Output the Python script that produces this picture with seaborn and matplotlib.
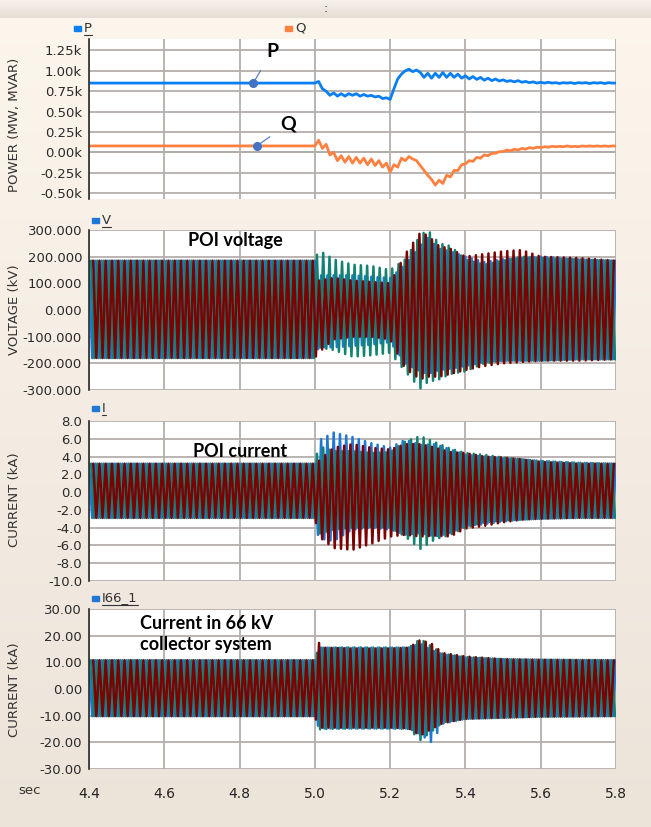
"""Grid disturbance at POI: P/Q, POI voltage, POI current and 66 kV collector current"""

import numpy as np
import pandas as pd
import seaborn as sns
import matplotlib.pyplot as plt
from matplotlib.patches import Rectangle
from matplotlib.lines import Line2D

# ---- data ----
freq = 60.0          # system frequency, Hz
t_start, t_end = 4.40, 5.80

# P and Q in k-units (MW / MVAR), one sample every 10 ms after the fault at 5.0 s
pq_time = [4.40] + list(np.round(np.linspace(5.00, 5.80, 81), 2))
p_vals = [0.85,
          0.85, 0.87, 0.78, 0.75, 0.70, 0.73, 0.69, 0.72, 0.69, 0.72, 0.70, 0.72, 0.69, 0.71, 0.69, 0.70, 0.68, 0.69, 0.66, 0.67, 0.65,
          0.78, 0.90, 0.96, 1.00, 1.02, 0.99, 1.01, 0.98, 0.92, 0.97,
          0.91, 0.97, 0.92, 0.98, 0.92, 0.97, 0.92, 0.96, 0.91, 0.94,
          0.90, 0.93, 0.895, 0.92, 0.885, 0.91, 0.88, 0.90, 0.875, 0.89,
          0.87, 0.88, 0.865, 0.88, 0.86, 0.87, 0.855, 0.865, 0.85, 0.86,
          0.85, 0.86, 0.85, 0.855, 0.845, 0.855, 0.85, 0.855, 0.845, 0.855,
          0.85, 0.855, 0.845, 0.855, 0.85, 0.855, 0.845, 0.855, 0.85, 0.85]
q_vals = [0.08,
          0.08, 0.15, 0.05, 0.10, -0.03, 0.00, -0.10, -0.04, -0.12, -0.05, -0.13, -0.06, -0.13, -0.07, -0.15, -0.08, -0.16, -0.10, -0.18, -0.13, -0.24,
          -0.15, -0.18, -0.07, -0.10, -0.05, -0.08, -0.10, -0.16, -0.22, -0.28,
          -0.33, -0.40, -0.34, -0.38, -0.28, -0.30, -0.22, -0.22, -0.15, -0.14,
          -0.10, -0.11, -0.06, -0.07, -0.03, -0.04, -0.01, -0.01, 0.01, 0.01,
          0.03, 0.02, 0.04, 0.03, 0.05, 0.04, 0.06, 0.05, 0.065, 0.06,
          0.07, 0.065, 0.075, 0.07, 0.075, 0.07, 0.08, 0.07, 0.075, 0.07,
          0.08, 0.075, 0.08, 0.075, 0.08, 0.075, 0.08, 0.075, 0.08, 0.08]

phases = ['a', 'b', 'c']

# POI voltage (kV): peak envelopes per phase
v_knots = [4.40, 5.00, 5.01, 5.05, 5.10, 5.15, 5.20, 5.24, 5.28, 5.30, 5.33, 5.36, 5.40, 5.45, 5.50, 5.55, 5.60, 5.70, 5.80]
v_upper = {'a': [185, 185, 130, 130, 130, 125, 120, 170, 240, 270, 230, 220, 200, 180, 190, 195, 200, 190, 185],
           'b': [185, 185, 225, 190, 170, 165, 150, 190, 280, 300, 250, 240, 190, 170, 185, 200, 195, 190, 185],
           'c': [185, 185, 110, 120, 110, 105, 100, 210, 290, 280, 240, 230, 200, 210, 220, 225, 200, 195, 185]}
v_lower = {'a': [-180, -180, -140, -140, -135, -130, -120, -200, -230, -240, -225, -220, -210, -195, -190, -190, -190, -185, -185],
           'b': [-180, -180, -140, -150, -175, -170, -160, -230, -295, -270, -260, -240, -230, -200, -190, -190, -190, -185, -185],
           'c': [-180, -180, -160, -110, -100, -100, -110, -220, -260, -250, -250, -240, -225, -210, -200, -195, -190, -190, -185]}

# POI current (kA)
i_knots = [4.40, 5.00, 5.01, 5.05, 5.10, 5.15, 5.20, 5.24, 5.28, 5.32, 5.36, 5.40, 5.45, 5.50, 5.55, 5.60, 5.70, 5.80]
i_upper = {'a': [3.2, 3.2, 5.8, 6.7, 6.2, 5.5, 5.0, 5.9, 5.3, 5.4, 4.8, 4.2, 4.0, 3.8, 3.7, 3.5, 3.3, 3.2],
           'b': [3.2, 3.2, 5.2, 4.6, 4.6, 4.4, 4.5, 5.7, 6.3, 5.6, 4.9, 4.4, 4.2, 3.9, 3.7, 3.5, 3.3, 3.2],
           'c': [3.2, 3.2, 3.5, 5.0, 5.4, 5.0, 4.8, 5.4, 5.4, 5.0, 4.5, 4.4, 4.0, 3.9, 3.7, 3.4, 3.2, 3.2]}
i_lower = {'a': [-2.9, -2.9, -5.2, -5.5, -4.2, -4.0, -4.2, -4.8, -4.6, -5.0, -4.6, -3.8, -3.6, -3.3, -3.1, -3.0, -2.9, -2.9],
           'b': [-2.9, -2.9, -4.7, -4.2, -4.0, -3.9, -4.0, -5.0, -6.4, -5.3, -4.8, -4.0, -3.4, -3.2, -3.1, -3.0, -2.9, -2.9],
           'c': [-2.9, -2.9, -5.0, -6.3, -6.5, -5.8, -5.0, -4.8, -5.0, -4.9, -5.0, -4.1, -3.8, -3.4, -3.1, -3.0, -2.9, -2.9]}

# 66 kV collector current (kA)
c_knots = [4.40, 5.00, 5.01, 5.02, 5.10, 5.20, 5.25, 5.28, 5.31, 5.34, 5.40, 5.50, 5.60, 5.80]
c_upper = {'a': [10.8, 10.8, 15.5, 15.5, 15.5, 15.5, 15.6, 17.0, 14.5, 13.0, 11.8, 11.2, 11.0, 10.8],
           'b': [10.8, 10.8, 15.8, 15.5, 15.6, 15.5, 15.5, 18.8, 16.0, 13.2, 12.0, 11.2, 11.0, 10.8],
           'c': [10.8, 10.8, 17.5, 15.5, 15.2, 15.2, 15.5, 18.4, 17.0, 13.5, 12.2, 11.2, 11.0, 10.8]}
c_lower = {'a': [-10.2, -10.2, -14.5, -14.8, -14.8, -14.8, -14.8, -17.0, -20.0, -13.0, -11.2, -10.8, -10.4, -10.2],
           'b': [-10.2, -10.2, -15.2, -15.0, -14.8, -14.8, -15.0, -19.2, -16.0, -12.5, -11.2, -10.8, -10.4, -10.2],
           'c': [-10.2, -10.2, -14.8, -14.5, -14.5, -14.5, -14.8, -17.5, -15.0, -12.8, -11.2, -10.8, -10.4, -10.2]}

xticks = [4.4, 4.6, 4.8, 5.0, 5.2, 5.4, 5.6, 5.8]
pq_ticks = [-0.50, -0.25, 0.0, 0.25, 0.50, 0.75, 1.00, 1.25]
v_ticks = [-300, -200, -100, 0, 100, 200, 300]
i_ticks = [-10, -8, -6, -4, -2, 0, 2, 4, 6, 8]
c_ticks = [-30, -20, -10, 0, 10, 20, 30]

phase_colors = {'a': '#1f78d6', 'b': '#138371', 'c': '#7c0000'}
W, H = 651, 827


def fx(px):
    return px / W


def fy(py):
    return 1 - py / H


def three_phase(knots, upper, lower):
    """Peak-to-peak trace per phase, following the read envelopes"""
    half = 0.5 / freq
    rows = []
    for k, ph in enumerate(phases):
        tp = np.arange(t_start + k / (3 * freq), t_end + 1e-9, half)
        up = np.interp(tp, knots, upper[ph])
        lo = np.interp(tp, knots, lower[ph])
        val = np.where(np.arange(len(tp)) % 2 == 0, up, lo)
        rows.append(pd.DataFrame({'time': tp, 'value': val, 'phase': ph}))
    return pd.concat(rows, ignore_index=True)


def style_axes(ax, ylim, yticks, labels, ylabel, ylab_py):
    ax.set_xlim(t_start, t_end)
    ax.set_ylim(*ylim)
    ax.set_xticks(xticks)
    ax.set_yticks(yticks)
    ax.set_yticklabels(labels)
    ax.set_facecolor('white')
    ax.grid(True, color='#b4afab', lw=1.3)
    ax.set_axisbelow(True)
    for s in ['top', 'right', 'bottom']:
        ax.spines[s].set_visible(False)
    ax.spines['left'].set_color('#2a2a2a')
    ax.spines['left'].set_linewidth(1.2)
    ax.tick_params(axis='y', direction='out', length=4, width=1, colors='#2a2a2a',
                   labelsize=9.5, pad=1)
    ax.tick_params(axis='x', length=0, labelbottom=False)
    ax.set_xlabel('')
    ax.set_ylabel('')
    fig.text(fx(15), fy(ylab_py), ylabel, rotation=90, ha='center', va='center',
             fontsize=9.5, color='#333333')


def legend_tag(px, py, label, color, underline=True):
    fig.patches.append(Rectangle((fx(px), fy(py + 3)), 7 / W, 5 / H, color=color,
                                 transform=fig.transFigure, figure=fig))
    t = fig.text(fx(px + 10), fy(py), label, ha='left', va='center', fontsize=9.5, color='#333333')
    if underline:
        fig.canvas.draw()
        bb = t.get_window_extent()
        fig.lines.append(Line2D([bb.x0 / fig.dpi / fig.get_figwidth(), bb.x1 / fig.dpi / fig.get_figwidth()],
                                [fy(py + 7)] * 2, color='#333333', lw=0.8,
                                transform=fig.transFigure, figure=fig))


sns.set_style('white')
plt.rcParams['font.family'] = ['DejaVu Sans']

fig = plt.figure(figsize=(W / 100, H / 100), dpi=100)

# background: cream gradient and the grey title strip
top = np.array([253, 246, 237]) / 255
bot = np.array([236, 227, 217]) / 255
frac = np.linspace(0, 1, H)[:, None]
bg = top + (bot - top) * frac
bar_top = np.array([246, 241, 235]) / 255
bar_bot = np.array([231, 221, 210]) / 255
bg[:18] = bar_top + (bar_bot - bar_top) * np.linspace(0, 1, 18)[:, None]
bg[18] = np.array([250, 247, 243]) / 255
ax_bg = fig.add_axes([0, 0, 1, 1], zorder=-10)
ax_bg.imshow(np.repeat(bg[:, None, :], 4, axis=1), aspect='auto', extent=[0, 1, 0, 1])
ax_bg.axis('off')
fig.text(0.5, fy(9), ':', ha='center', va='center', fontsize=9, color='#333333')

left, width, height = fx(89), 527 / W, 160 / H
ax1 = fig.add_axes([left, fy(199), width, height])
ax2 = fig.add_axes([left, fy(390), width, height])
ax3 = fig.add_axes([left, fy(581), width, height])
ax4 = fig.add_axes([left, fy(769), width, height])

# ---- power ----
pq = pd.DataFrame({'time': pq_time * 2, 'value': p_vals + q_vals,
                   'series': ['P'] * len(pq_time) + ['Q'] * len(pq_time)})
sns.lineplot(data=pq, x='time', y='value', hue='series', palette={'P': '#0b7ff2', 'Q': '#ff8142'},
             estimator=None, sort=False, legend=False, lw=2.0, ax=ax1)
style_axes(ax1, (-0.57, 1.39), pq_ticks, [f"{v:.2f}k" for v in pq_ticks],
           'POWER (MW, MVAR)', 125)
ax1.axhline(0, color='#9a9692', lw=1.3, zorder=0.5)
bold = dict(family=['Lato', 'DejaVu Sans'], fontweight='bold', color='black')
for dot, txt, lab in [((4.836, 0.85), (4.886, 1.235), 'P'), ((4.846, 0.08), (4.928, 0.35), 'Q')]:
    ax1.plot(*dot, 'o', color='#4472c4', ms=5.5, zorder=5)
    ax1.annotate(lab, xy=dot, xytext=txt, ha='center', va='center', fontsize=14,
                 arrowprops=dict(arrowstyle='-', color='#4472c4', lw=0.8, shrinkA=6, shrinkB=2),
                 **bold)

# ---- three-phase waveforms ----
panels = [(ax2, v_knots, v_upper, v_lower, (-300, 300), v_ticks, [f"{v:.3f}" for v in v_ticks], 'VOLTAGE (kV)', 310),
          (ax3, i_knots, i_upper, i_lower, (-10, 8), i_ticks, [f"{v:.1f}" for v in i_ticks], 'CURRENT (kA)', 500),
          (ax4, c_knots, c_upper, c_lower, (-30, 30), c_ticks, [f"{v:.2f}" for v in c_ticks], 'CURRENT (kA)', 690)]
for ax, knots, upper, lower, ylim, ticks, labels, ylabel, ypos in panels:
    df = three_phase(knots, upper, lower)
    sns.lineplot(data=df, x='time', y='value', hue='phase', hue_order=phases, palette=phase_colors,
                 estimator=None, sort=False, legend=False, lw=1.8, ax=ax)
    style_axes(ax, ylim, ticks, labels, ylabel, ypos)

ax2.text(4.788, 262, 'POI voltage', ha='center', va='center', fontsize=13, **bold)
ax3.text(4.801, 4.6, 'POI current', ha='center', va='center', fontsize=13, **bold)
ax4.text(4.535, 20.6, 'Current in 66 kV\ncollector system', ha='left', va='center', fontsize=13,
         linespacing=1.25, **bold)

# x axis only under the last panel, a little below the plot
ax4.spines['bottom'].set_visible(True)
ax4.spines['bottom'].set_position(('outward', 9))
ax4.spines['bottom'].set_alpha(0)
ax4.tick_params(axis='x', length=3, width=1, colors='#555555', labelbottom=True,
                labelsize=10, labelcolor='#222222', pad=1)
ax4.set_xticklabels([f"{v:.1f}" for v in xticks])
fig.text(fx(30), fy(790), 'sec', ha='center', va='center', fontsize=9.5, color='#333333')

legend_tag(74, 28, 'P', '#0b7ff2')
legend_tag(285, 28, 'Q', '#ff8142', underline=False)
legend_tag(92, 220, 'V', '#1f78d6')
legend_tag(92, 408, 'I', '#1f78d6')
legend_tag(92, 598, 'I66_1', '#1f78d6')

fig.savefig('out.png', dpi=100)
